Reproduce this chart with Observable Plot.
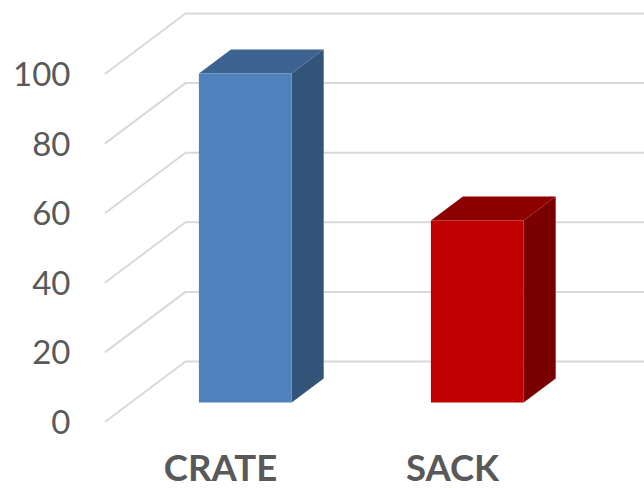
<!DOCTYPE html>
<html>
<head>
<meta charset="utf-8">
<style>html,body{margin:0;padding:0;background:#fff}svg{display:block}</style>
<script src="https://cdn.jsdelivr.net/npm/d3@7"></script>
<script src="https://cdn.jsdelivr.net/npm/@observablehq/plot@0.6"></script>
</head>
<body>
<script>
const categories = ["CRATE", "SACK"];
const values = [94.5, 52.3];
const tickValues = [0, 20, 40, 60, 80, 100];
const frontColors = ["#4f81bd", "#c00000"];
const topColors = ["#3d6390", "#8c0000"];
const sideColors = ["#325479", "#7a0000"];

// Oblique projection: a point at depth d (0..1) shifts by d*depthX slots and d*depthY value units.
const depthX = 80 / 232, depthY = 60 / 3.48;
const barHalf = 0.2, barFront = 0.31, barBack = 0.71, barLift = 0.12;
const wallLeft = -0.4957, chartRight = 1.8276;

const px = (slot, d) => slot + d * depthX;
const py = (v, d) => v + d * depthY;

const grid = tickValues.flatMap(v => [
  {x: px(wallLeft, 0), y: py(v, 0), v},
  {x: px(wallLeft, 1), y: py(v, 1), v},
  {x: chartRight, y: py(v, 1), v}
]);

const faces = categories.flatMap((c, i) => {
  const l = i - barHalf, r = i + barHalf, v = values[i];
  const quad = (name, color, pts) => pts.map(([s, h, d]) => ({x: px(s, d), y: py(h, d) + barLift, face: c + name, color}));
  return [
    ...quad("top", topColors[i], [[l, v, barFront], [r, v, barFront], [r, v, barBack], [l, v, barBack]]),
    ...quad("side", sideColors[i], [[r, 0, barFront], [r, 0, barBack], [r, v, barBack], [r, v, barFront]]),
    ...quad("front", frontColors[i], [[l, 0, barFront], [r, 0, barFront], [r, v, barFront], [l, v, barFront]])
  ];
});

const chart = Plot.plot({
  width: 644,
  height: 488,
  margin: 0,
  x: {domain: [-220 / 232, chartRight], axis: null},
  y: {domain: [-67 / 3.48, 421 / 3.48], axis: null},
  color: {type: "identity"},
  marks: [
    Plot.line(grid, {x: "x", y: "y", z: "v", stroke: "#d9d9d9", strokeWidth: 2}),
    Plot.line(faces, {x: "x", y: "y", z: "face", fill: "color", stroke: "none", curve: "linear-closed"}),
    Plot.text(tickValues, {
      x: () => wallLeft, y: d => d, text: d => String(d), textAnchor: "end", dx: -35, dy: 2,
      fontFamily: "Lato", fontSize: 33, fill: "#595959"
    }),
    Plot.text(categories, {
      x: (d, i) => i, y: () => 0, text: d => d, textAnchor: "middle", dy: 48,
      fontFamily: "Lato", fontWeight: 700, fontSize: 36.5, fill: "#595959"
    })
  ]
});
document.body.appendChild(chart);
</script>
</body>
</html>
